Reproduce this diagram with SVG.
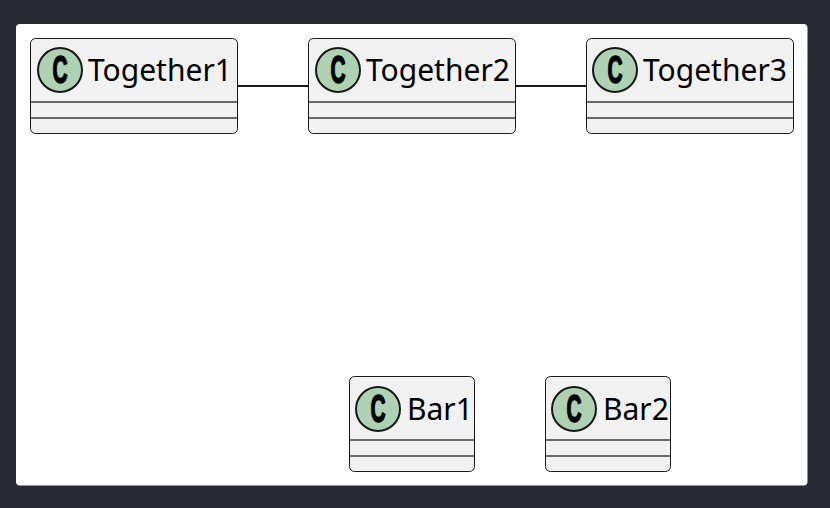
<svg xmlns="http://www.w3.org/2000/svg" width="830" height="508" viewBox="0 0 830 508">
<style>
.box{fill:#F1F1F1;stroke:#181818;stroke-width:1}
.div{stroke:#6a6a6a;stroke-width:2}
.circ{fill:#ADD1B2;stroke:#181818;stroke-width:2}
.c{font-family:"Liberation Sans",Arial,sans-serif;font-weight:bold;font-size:38px;fill:#000;stroke:#000;stroke-width:1.5;text-anchor:middle}
.name{font-family:"Noto Sans","Liberation Sans",sans-serif;font-size:30px;fill:#000}
.edge{stroke:#181818;stroke-width:2;fill:none}
</style>
<rect x="0" y="0" width="830" height="508" fill="#272935"/>
<rect x="16" y="24" width="791.5" height="461.5" rx="4" fill="#FFFFFF"/>
<g id="connectors">
<line class="edge" x1="238" y1="86" x2="308" y2="86"/>
<line class="edge" x1="516" y1="86" x2="586" y2="86"/>
</g>
<g id="Together1">
<rect class="box" x="30.5" y="38.5" width="207" height="95" rx="5"/>
<circle class="circ" cx="60" cy="70" r="22"/>
<text class="c" transform="translate(60,83) scale(0.55,1)">C</text>
<text class="name" x="88" y="81">Together1</text>
<line class="div" x1="31" y1="102" x2="237" y2="102"/>
<line class="div" x1="31" y1="118" x2="237" y2="118"/>
</g>
<g id="Together2">
<rect class="box" x="308.5" y="38.5" width="207" height="95" rx="5"/>
<circle class="circ" cx="338" cy="70" r="22"/>
<text class="c" transform="translate(338,83) scale(0.55,1)">C</text>
<text class="name" x="366" y="81">Together2</text>
<line class="div" x1="309" y1="102" x2="515" y2="102"/>
<line class="div" x1="309" y1="118" x2="515" y2="118"/>
</g>
<g id="Together3">
<rect class="box" x="586.5" y="38.5" width="207" height="95" rx="5"/>
<circle class="circ" cx="615" cy="70" r="22"/>
<text class="c" transform="translate(615,83) scale(0.55,1)">C</text>
<text class="name" x="643" y="81">Together3</text>
<line class="div" x1="587" y1="102" x2="793" y2="102"/>
<line class="div" x1="587" y1="118" x2="793" y2="118"/>
</g>
<g id="Bar1">
<rect class="box" x="349.5" y="376.5" width="125" height="95" rx="5"/>
<circle class="circ" cx="378" cy="409" r="22"/>
<text class="c" transform="translate(378,422) scale(0.55,1)">C</text>
<text class="name" x="407" y="420">Bar1</text>
<line class="div" x1="350" y1="440" x2="474" y2="440"/>
<line class="div" x1="350" y1="456" x2="474" y2="456"/>
</g>
<g id="Bar2">
<rect class="box" x="545.5" y="376.5" width="125" height="95" rx="5"/>
<circle class="circ" cx="574" cy="409" r="22"/>
<text class="c" transform="translate(574,422) scale(0.55,1)">C</text>
<text class="name" x="603" y="420">Bar2</text>
<line class="div" x1="546" y1="440" x2="670" y2="440"/>
<line class="div" x1="546" y1="456" x2="670" y2="456"/>
</g>
</svg>
